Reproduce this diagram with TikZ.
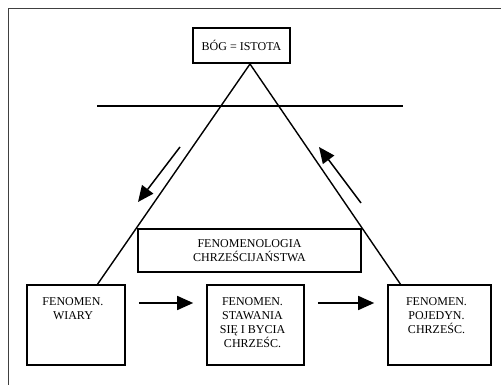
\documentclass[tikz,border=0pt]{standalone}
\usepackage{fontspec}
\setmainfont{Liberation Serif}
\usetikzlibrary{arrows.meta}
\begin{document}
\begin{tikzpicture}[x=1pt,y=-1pt,
  box/.style={draw=black, line width=1.6pt, fill=white, inner sep=0pt},
  txt/.style={font=\rmfamily\fontsize{12}{14}\selectfont, align=center},
  edge/.style={line width=1.4pt},
  arr/.style={line width=1.5pt, -{Triangle[length=16pt,width=14pt]}},
  frame/.style={draw=black!75, line width=1pt}]
\useasboundingbox (0,0) rectangle (501,385);
\draw[frame] (8,385) -- (8,9) -- (501,9);

% triangle and horizontal line
\coordinate (apex) at (250,64);
\coordinate (lfoot) at (97,285);
\coordinate (rfoot) at (401,285);
\coordinate (hl) at (97,106);
\coordinate (hr) at (403,106);
\draw[edge] (lfoot) -- (apex) -- (rfoot);
\draw[edge] (hl) -- (hr);

% boxes
\node[box, txt, minimum width=97pt, minimum height=35pt] (god) at (241.5,45.5) {BÓG = ISTOTA};
\node[box, txt, minimum width=223pt, minimum height=43pt] (fenchr) at (249.5,250.5) {FENOMENOLOGIA\\CHRZEŚCIJAŃSTWA};
\node[box, minimum width=98pt, minimum height=80pt] (wiary) at (76,325) {};
\node[box, minimum width=97pt, minimum height=80pt] (staw) at (255.5,325) {};
\node[box, minimum width=103pt, minimum height=80pt] (pojed) at (439.5,325) {};
\node[txt, anchor=north, inner sep=0pt] (wiaryt) at ([xshift=-3pt,yshift=-13pt]wiary.north) {FENOMEN.\\WIARY};
\node[txt, anchor=north, inner sep=0pt] (stawt) at ([xshift=-3pt,yshift=-13pt]staw.north) {FENOMEN.\\STAWANIA\\SIĘ I BYCIA\\CHRZEŚC.};
\node[txt, anchor=north, inner sep=0pt] (pojedt) at ([xshift=-3pt,yshift=-13pt]pojed.north) {FENOMEN.\\POJEDYN.\\CHRZEŚC.};

% horizontal arrows
\coordinate (arow) at (0,303);
\draw[arr, shorten <=13pt, shorten >=13pt] (wiary.east |- arow) -- (staw.west |- arow);
\draw[arr, shorten <=13pt, shorten >=13pt] (staw.east |- arow) -- (pojed.west |- arow);

% diagonal arrows
\coordinate (d1s) at (180,147);
\coordinate (d1e) at (138,202);
\coordinate (d2s) at (361,203);
\coordinate (d2e) at (319,147);
\draw[arr] (d1s) -- (d1e);
\draw[arr] (d2s) -- (d2e);
\end{tikzpicture}
\end{document}
